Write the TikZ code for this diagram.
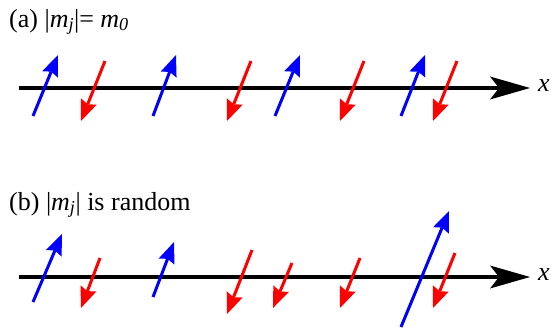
\documentclass[tikz,border=0pt]{standalone}
\usepackage{fontspec}
\setmainfont{Liberation Serif}
\usetikzlibrary{arrows.meta}

\begin{document}
\begin{tikzpicture}[x=1pt,y=-1pt,
  axis/.style={line width=3.6pt,-{Stealth[length=40pt,width=23pt,inset=9pt,line width=0pt]}},
  spin/.style={line width=3pt,-{Stealth[length=21pt,width=17pt,inset=3pt,line width=0pt]}},
  up/.style={spin,blue},
  dn/.style={spin,red},
  lbl/.style={anchor=west,inner sep=0pt,font=\fontsize{26}{28}\selectfont}
]
  \useasboundingbox (0,0) rectangle (554,331);
  % (a) equal moments
  \node[lbl] (ta) at (9,22) {(a) |\textit{m}\textsubscript{\textit{j}}|= \textit{m}\textsubscript{\textit{0}}};
  \coordinate (xa0) at (19,88); \coordinate (xa1) at (530,88);
  \draw[axis] (xa0) -- (xa1);
  \node[lbl] (xa) at (538,86) {\textit{x}};
  \coordinate (au1) at (33,116);  \coordinate (au1h) at (58,55);  \draw[up] (au1) -- (au1h);
  \coordinate (au2) at (153,116); \coordinate (au2h) at (176,55); \draw[up] (au2) -- (au2h);
  \coordinate (au3) at (275,116); \coordinate (au3h) at (300,55); \draw[up] (au3) -- (au3h);
  \coordinate (au4) at (401,116); \coordinate (au4h) at (425,55); \draw[up] (au4) -- (au4h);
  \coordinate (ad1) at (105,61);  \coordinate (ad1h) at (81,121);  \draw[dn] (ad1) -- (ad1h);
  \coordinate (ad2) at (251,61);  \coordinate (ad2h) at (227,121); \draw[dn] (ad2) -- (ad2h);
  \coordinate (ad3) at (364,61);  \coordinate (ad3h) at (340,121); \draw[dn] (ad3) -- (ad3h);
  \coordinate (ad4) at (457,61);  \coordinate (ad4h) at (433,121); \draw[dn] (ad4) -- (ad4h);
  % (b) random moments
  \node[lbl] (tb) at (9,205) {(b) |\textit{m}\textsubscript{\textit{j}}| is random};
  \coordinate (xb0) at (19,277); \coordinate (xb1) at (530,277);
  \draw[axis] (xb0) -- (xb1);
  \node[lbl] (xb) at (538,275) {\textit{x}};
  \coordinate (bu1) at (33,302);  \coordinate (bu1h) at (62,234);  \draw[up] (bu1) -- (bu1h);
  \coordinate (bu2) at (153,297); \coordinate (bu2h) at (174,242); \draw[up] (bu2) -- (bu2h);
  \coordinate (bu3) at (401,327); \coordinate (bu3h) at (449,211); \draw[up] (bu3) -- (bu3h);
  \coordinate (bd1) at (100,258); \coordinate (bd1h) at (81,308);  \draw[dn] (bd1) -- (bd1h);
  \coordinate (bd2) at (252,250); \coordinate (bd2h) at (227,314); \draw[dn] (bd2) -- (bd2h);
  \coordinate (bd3) at (292,263); \coordinate (bd3h) at (273,308); \draw[dn] (bd3) -- (bd3h);
  \coordinate (bd4) at (360,258); \coordinate (bd4h) at (340,308); \draw[dn] (bd4) -- (bd4h);
  \coordinate (bd5) at (455,253); \coordinate (bd5h) at (433,308); \draw[dn] (bd5) -- (bd5h);
\end{tikzpicture}
\end{document}
